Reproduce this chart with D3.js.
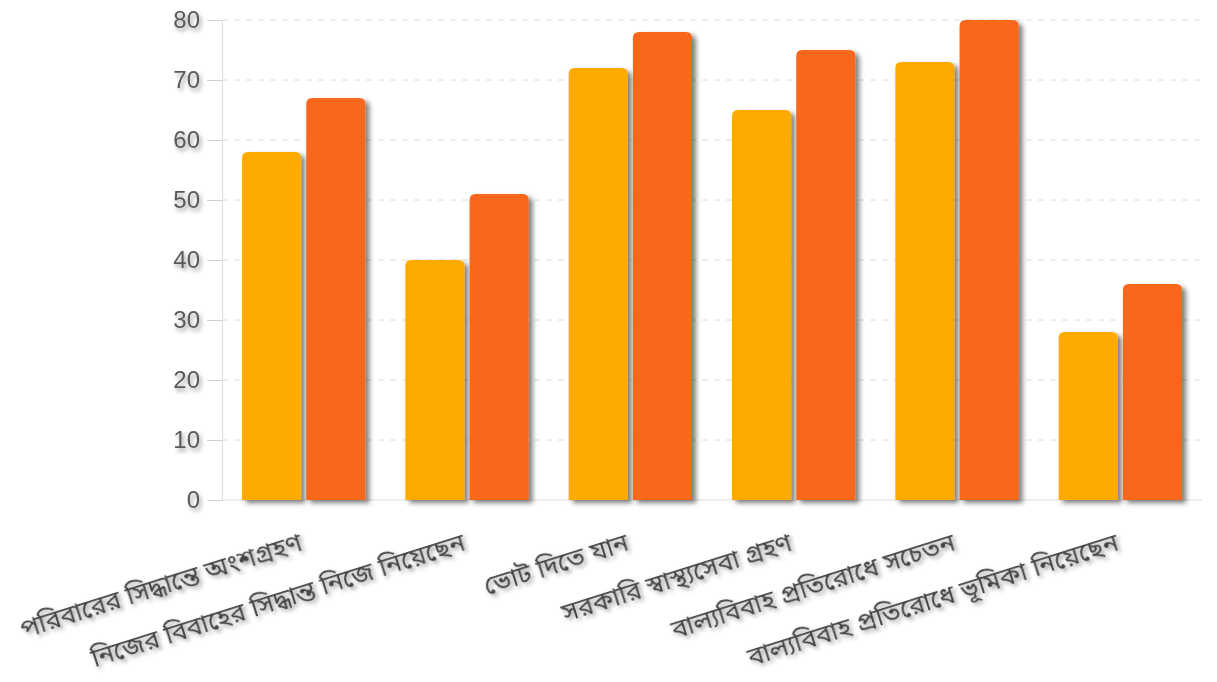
<!DOCTYPE html>
<html><head><meta charset="utf-8">
<script src="https://cdn.jsdelivr.net/npm/d3@7"></script>
<style>
html,body{margin:0;padding:0;background:#fff;}
svg{display:block;}
</style></head>
<body>
<svg id="chart" width="1217" height="682"></svg>
<script>
const categories = ["পরিবারের সিদ্ধান্তে অংশগ্রহণ","নিজের বিবাহের সিদ্ধান্ত নিজে নিয়েছেন","ভোট দিতে যান","সরকারি স্বাস্থ্যসেবা গ্রহণ","বাল্যবিবাহ প্রতিরোধে সচেতন","বাল্যবিবাহ প্রতিরোধে ভূমিকা নিয়েছেন"];
const seriesNames = ["series1","series2"];
const series1 = [58,40,72,65,73,28];
const series2 = [67,51,78,75,80,36];
const yTicks = [0,10,20,30,40,50,60,70,80];
const colors = ["#FFAA00","#F8681E"];

(function(){
const svg = d3.select("#chart");
const defs = svg.append("defs");
const f = defs.append("filter").attr("id","barShadow").attr("x","-20%").attr("y","-20%").attr("width","150%").attr("height","150%");
f.append("feDropShadow").attr("dx",4).attr("dy",3).attr("stdDeviation",2.5).attr("flood-color","#000").attr("flood-opacity",0.5);
const ft = defs.append("filter").attr("id","textShadow").attr("x","-20%").attr("y","-50%").attr("width","150%").attr("height","250%");
ft.append("feDropShadow").attr("dx",2).attr("dy",3).attr("stdDeviation",2).attr("flood-color","#000").attr("flood-opacity",0.4);

const mLeft = 222, mRight = 1202, mTop = 20, mBottom = 500;
const x0 = d3.scaleBand().domain(categories).range([mLeft,mRight]).paddingInner(0.245).paddingOuter(0.1225);
const x1 = d3.scaleBand().domain(seriesNames).range([0,x0.bandwidth()]).paddingInner(0.08);
const y = d3.scaleLinear().domain([0,80]).range([mBottom,mTop]);

svg.append("g").selectAll("line").data(yTicks.filter(d=>d>0)).join("line")
  .attr("x1",mLeft).attr("x2",mRight).attr("y1",d=>y(d)).attr("y2",d=>y(d))
  .attr("stroke","#dcdcdc").attr("stroke-width",1).attr("stroke-dasharray","6,6");

const yAxis = svg.append("g").attr("transform",`translate(${mLeft},0)`)
  .call(d3.axisLeft(y).tickValues(yTicks).tickSize(15).tickPadding(7));
yAxis.select(".domain").attr("stroke","#dcdcdc");
yAxis.selectAll(".tick line").attr("stroke","#cfcfcf");
yAxis.selectAll(".tick text").attr("font-family","'Liberation Sans',Arial,sans-serif").attr("font-size",24).attr("fill","#5a5a5a").attr("filter","url(#textShadow)");

svg.append("line").attr("x1",mLeft).attr("x2",mRight).attr("y1",mBottom).attr("y2",mBottom).attr("stroke","#dcdcdc");

const rows = categories.map((c,i)=>({cat:c, vals:[series1[i],series2[i]]}));
const r = 6;
function topRounded(x,yTop,w,h){
  const rr = Math.min(r,h/2,w/2);
  return `M${x},${yTop+h}V${yTop+rr}Q${x},${yTop} ${x+rr},${yTop}H${x+w-rr}Q${x+w},${yTop} ${x+w},${yTop+rr}V${yTop+h}Z`;
}
const g = svg.append("g");
rows.forEach(row=>{
  row.vals.forEach((v,j)=>{
    const bx = x0(row.cat)+x1(seriesNames[j]);
    g.append("path").attr("d",topRounded(bx,y(v),x1.bandwidth(),mBottom-y(v)))
      .attr("fill",colors[j]).attr("filter","url(#barShadow)");
  });
});

const xl = svg.append("g");
categories.forEach(c=>{
  const cx = x0(c)+x0.bandwidth()/2;
  xl.append("text").attr("transform",`translate(${cx},550) rotate(-17.5)`)
    .attr("text-anchor","end")
    .attr("font-family","'Noto Sans Bengali','Noto Sans','Vrinda',sans-serif").attr("font-size",26)
    .attr("fill","#444").attr("filter","url(#textShadow)").text(c);
});
})();
</script>
</body></html>
